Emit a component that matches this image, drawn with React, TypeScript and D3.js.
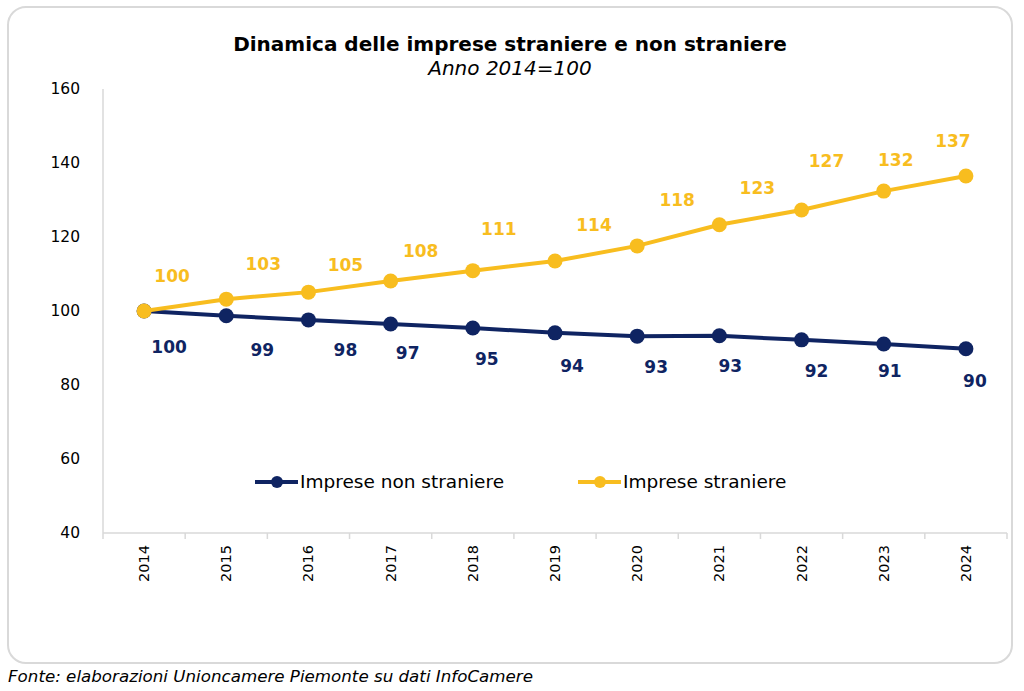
import React from "react";
import * as d3 from "d3";

const years = ["2014", "2015", "2016", "2017", "2018", "2019", "2020", "2021", "2022", "2023", "2024"];
const nonStraniere = [100, 98.7, 97.6, 96.5, 95.4, 94.1, 93.2, 93.3, 92.2, 91.1, 89.8];
const straniere = [100, 103.2, 105.1, 108.1, 110.9, 113.5, 117.6, 123.3, 127.3, 132.4, 136.5];
const nonStranLabels = ["100", "99", "98", "97", "95", "94", "93", "93", "92", "91", "90"];
const stranLabels = ["100", "103", "105", "108", "111", "114", "118", "123", "127", "132", "137"];
const yTicks = [40, 60, 80, 100, 120, 140, 160];

// manual label offsets (pixels) as in the reference
const stranDx = [28, 37, 37, 30, 26, 39, 40, 38, 25, 12, -13];
const stranDy = [-35, -35, -27, -30, -42, -36, -46, -37, -49, -31, -35];
const nonDx = [25, 36, 37, 17, 14, 17, 19, 11, 15, 6, 9];
const nonDy = [36, 34, 30, 29, 31, 33, 31, 30, 31, 27, 32];

const NAVY = "#0f2462";
const YELLOW = "#f8bd1f";
const FONT = "'DejaVu Sans', Verdana, sans-serif";

export default function App() {
  const W = 1024, H = 691;
  const x = d3.scaleBand<string>().domain(years).range([103, 1007]);
  const y = d3.scaleLinear().domain([40, 160]).range([533, 89]);
  const cx = (d: string) => (x(d) as number) + x.bandwidth() / 2;
  const line = d3.line<number>().x((_, i) => cx(years[i])).y((v) => y(v));

  const series = [
    { vals: nonStraniere, color: NAVY, labels: nonStranLabels, dx: nonDx, dy: nonDy },
    { vals: straniere, color: YELLOW, labels: stranLabels, dx: stranDx, dy: stranDy },
  ];

  return (
    <svg width={W} height={H} style={{ position: "absolute", left: 0, top: 0, display: "block" }} fontFamily={FONT}>
      <rect x={0} y={0} width={W} height={H} fill="#fff" />
      <rect x={8} y={7} width={1004} height={656} rx={18} ry={18} fill="#fff" stroke="#d9d9d9" strokeWidth={2} />
      <text x={510} y={51} textAnchor="middle" fontWeight="bold" fontSize={20} fill="#000">
        Dinamica delle imprese straniere e non straniere
      </text>
      <text x={510} y={75} textAnchor="middle" fontStyle="italic" fontSize={20} fill="#000">
        Anno 2014=100
      </text>

      {/* y axis */}
      <line x1={103} x2={103} y1={y(160)} y2={y(40)} stroke="#d9d9d9" strokeWidth={1.5} />
      {yTicks.map((t) => (
        <text key={t} x={80} y={y(t)} dy="0.35em" textAnchor="end" fontSize={15.5} fill="#000">
          {t}
        </text>
      ))}

      {/* x axis */}
      <line x1={103} x2={1007} y1={y(40)} y2={y(40)} stroke="#d9d9d9" strokeWidth={1.5} />
      {years.map((yr) => (
        <line key={"t" + yr} x1={x(yr) as number} x2={x(yr) as number} y1={y(40)} y2={y(40) + 6} stroke="#d9d9d9" strokeWidth={1.5} />
      ))}
      <line x1={1007} x2={1007} y1={y(40)} y2={y(40) + 6} stroke="#d9d9d9" strokeWidth={1.5} />
      {years.map((yr) => (
        <text key={"l" + yr} transform={`translate(${cx(yr) + 5},${545}) rotate(-90)`} textAnchor="end" fontSize={14.5} fill="#000">
          {yr}
        </text>
      ))}

      {series.map((s, si) => (
        <g key={si}>
          <path d={line(s.vals) || ""} fill="none" stroke={s.color} strokeWidth={4} strokeLinejoin="round" />
          {s.vals.map((v, i) => (
            <circle key={i} cx={cx(years[i])} cy={y(v)} r={7.5} fill={s.color} />
          ))}
          {s.vals.map((v, i) => (
            <text
              key={"lab" + i}
              x={cx(years[i]) + s.dx[i]}
              y={y(v) + s.dy[i]}
              dy="0.35em"
              textAnchor="middle"
              fontWeight="bold"
              fontSize={17}
              fill={s.color}
            >
              {s.labels[i]}
            </text>
          ))}
        </g>
      ))}

      {/* legend */}
      <g>
        <line x1={255} x2={298} y1={482} y2={482} stroke={NAVY} strokeWidth={4} />
        <circle cx={277} cy={482} r={6} fill={NAVY} />
        <text x={300} y={482} dy="0.35em" fontSize={18.5} fill="#000">Imprese non straniere</text>
        <line x1={578} x2={621} y1={482} y2={482} stroke={YELLOW} strokeWidth={4} />
        <circle cx={600} cy={482} r={6} fill={YELLOW} />
        <text x={623} y={482} dy="0.35em" fontSize={18.5} fill="#000">Imprese straniere</text>
      </g>

      <text x={8} y={682} fontStyle="italic" fontSize={16.7} fill="#000">
        Fonte: elaborazioni Unioncamere Piemonte su dati InfoCamere
      </text>
    </svg>
  );
}
